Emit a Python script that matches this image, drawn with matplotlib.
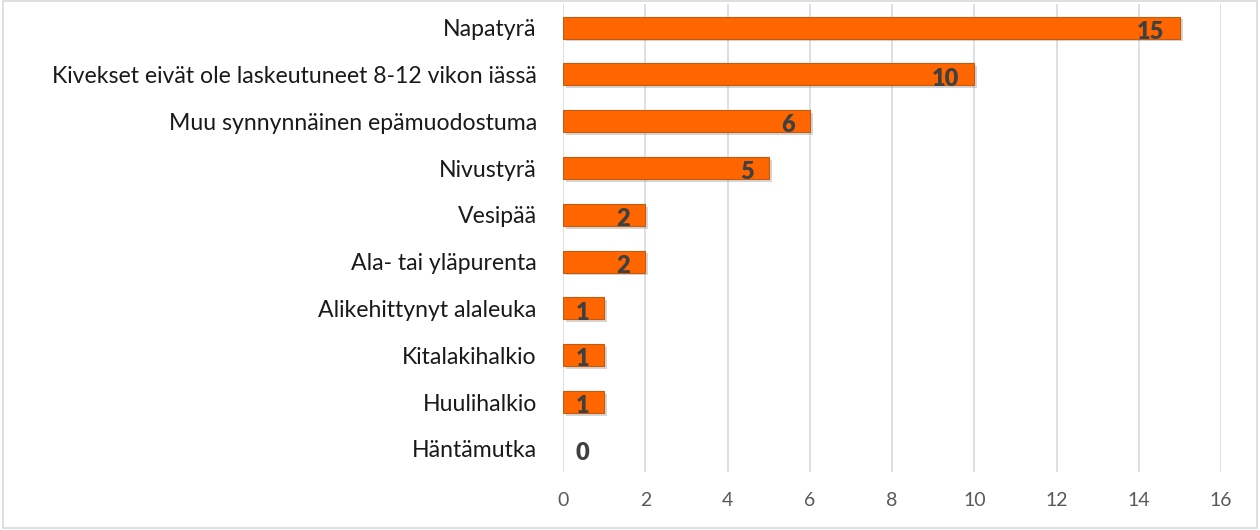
import matplotlib
matplotlib.use('Agg')
import matplotlib.pyplot as plt
import matplotlib.patheffects as pe
from matplotlib.patches import Rectangle

categories = ['Napatyrä', 'Kivekset eivät ole laskeutuneet 8-12 vikon iässä',
              'Muu synnynnäinen epämuodostuma', 'Nivustyrä', 'Vesipää',
              'Ala- tai yläpurenta', 'Alikehittynyt alaleuka', 'Kitalakihalkio',
              'Huulihalkio', 'Häntämutka']
counts = [15, 10, 6, 5, 2, 2, 1, 1, 1, 0]
x_ticks = [0, 2, 4, 6, 8, 10, 12, 14, 16]

plt.rcParams['font.family'] = ['Lato', 'DejaVu Sans']

fig = plt.figure(figsize=(12.6, 5.3), dpi=100)
ax = fig.add_axes([0.447, 0.109, 0.522, 0.883])

pos = list(range(len(categories)))
shadow = [pe.SimplePatchShadow(offset=(2, -2), shadow_rgbFace='#999999', alpha=0.4), pe.Normal()]
bars = ax.barh(pos, counts, height=0.47, color='#ff6600', edgecolor='#c55a11',
               linewidth=0.8, zorder=3)
for b, v in zip(bars, counts):
    if v > 0:
        b.set_path_effects(shadow)
    else:
        b.set_linewidth(0)

# value labels at the inside end of each bar
for p, v in zip(pos, counts):
    if v > 0:
        ax.annotate(str(v), (v, p), xytext=(-11, -3), textcoords='offset points',
                    ha='right', va='center', fontsize=17, fontweight='heavy',
                    color='#404040', zorder=4)
    else:
        ax.annotate(str(v), (v, p), xytext=(9, -3), textcoords='offset points',
                    ha='left', va='center', fontsize=17, fontweight='heavy',
                    color='#404040', zorder=4)

ax.set_xlim(0, 16)
ax.set_ylim(len(categories) - 0.5, -0.5)
ax.set_xticks(x_ticks)
ax.set_yticks(pos)
ax.set_yticklabels(categories, fontsize=16.6, color='#1a1a1a')
ax.tick_params(axis='x', labelsize=14, labelcolor='#595959', length=0, pad=14)
ax.tick_params(axis='y', length=0, pad=19)
ax.grid(axis='x', color='#d9d9d9', linewidth=1.2, zorder=0)
for s in ax.spines.values():
    s.set_visible(False)

# chart border
fig.patches.append(Rectangle((0.002, 0.004), 0.996, 0.994, transform=fig.transFigure,
                             fill=False, edgecolor='#d9d9d9', linewidth=1.2))

fig.savefig('out.png', dpi=100)
